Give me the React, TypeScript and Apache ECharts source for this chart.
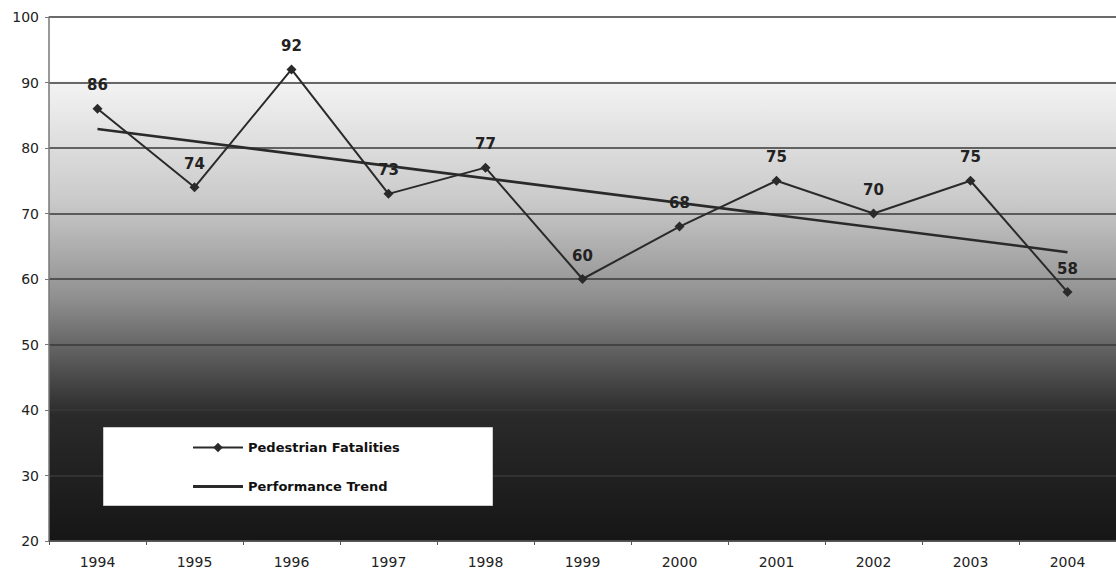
import React, { useEffect, useRef } from "react";
import * as echarts from "echarts";

const years = ["1994", "1995", "1996", "1997", "1998", "1999", "2000", "2001", "2002", "2003", "2004"];
const fatalities = [86, 74, 92, 73, 77, 60, 68, 75, 70, 75, 58];
const pointLabels = ["86", "74", "92", "73", "77", "60", "68", "75", "70", "75", "58"];
// trend line endpoints (1994 and 2004)
const trend = [82.9, null, null, null, null, null, null, null, null, null, 64.1];
const yTicks = { min: 20, max: 100, interval: 10 };

export default function App() {
  const ref = useRef<HTMLDivElement>(null);
  useEffect(() => {
    const chart = echarts.init(ref.current!, null, { renderer: "svg" });
    const font = "'DejaVu Sans', Arial, sans-serif";
    chart.setOption({
      animation: false,
      backgroundColor: "#ffffff",
      grid: {
        left: 49,
        top: 17,
        right: -9,
        bottom: 41,
        show: true,
        borderWidth: 0,
        backgroundColor: new echarts.graphic.LinearGradient(0, 0, 0, 1, [
          { offset: 0, color: "#ffffff" },
          { offset: 0.12, color: "#ffffff" },
          { offset: 0.125, color: "#f3f3f3" },
          { offset: 0.35, color: "#cacaca" },
          { offset: 0.54, color: "#8e8e8e" },
          { offset: 0.66, color: "#565656" },
          { offset: 0.76, color: "#2a2a2a" },
          { offset: 1, color: "#161616" },
        ]),
      },
      xAxis: {
        type: "category",
        data: years,
        boundaryGap: true,
        axisLine: { show: true, lineStyle: { color: "#555", width: 1.5 } },
        axisTick: { show: true, length: 4, lineStyle: { color: "#555" } },
        axisLabel: { fontSize: 14, color: "#222", margin: 14, fontFamily: font },
        splitLine: { show: false },
      },
      yAxis: {
        type: "value",
        min: yTicks.min,
        max: yTicks.max,
        interval: yTicks.interval,
        axisLine: { show: true, lineStyle: { color: "#777", width: 1.5 } },
        axisTick: { show: true, length: 4, lineStyle: { color: "#777" } },
        axisLabel: { fontSize: 14, color: "#222", margin: 10, fontFamily: font },
        splitLine: { show: true, lineStyle: { color: "#383838", width: 1.5 } },
      },
      legend: {
        orient: "vertical",
        left: 192,
        top: 441,
        z: 6,
        itemWidth: 50,
        itemHeight: 12,
        itemGap: 26,
        padding: 0,
        textStyle: { fontSize: 13, fontWeight: "bold", color: "#111", fontFamily: font },
        data: [
          { name: "Pedestrian Fatalities" },
          {
            name: "Performance Trend",
            icon: "path://M0,0 L50,0 L50,3 L0,3 Z",
            itemStyle: { color: "#2a2a2a" },
          },
        ],
      },
      graphic: [
        {
          type: "rect",
          left: 103,
          top: 427,
          z: 5,
          shape: { width: 389, height: 78 },
          style: { fill: "#ffffff", stroke: "#cccccc", lineWidth: 1 },
        },
      ],
      series: [
        {
          name: "Pedestrian Fatalities",
          type: "line",
          data: fatalities,
          symbol: "diamond",
          symbolSize: 10,
          itemStyle: { color: "#2a2a2a" },
          lineStyle: { color: "#2a2a2a", width: 2 },
          label: {
            show: true,
            position: "top",
            distance: 11,
            fontSize: 15,
            fontWeight: "bold",
            color: "#222",
            fontFamily: font,
            formatter: (p: any) => pointLabels[p.dataIndex],
          },
          z: 3,
        },
        {
          name: "Performance Trend",
          type: "line",
          data: trend,
          connectNulls: true,
          symbol: "none",
          itemStyle: { color: "#2a2a2a" },
          lineStyle: { color: "#2a2a2a", width: 2.5 },
          z: 2,
        },
      ],
    });
    return () => chart.dispose();
  }, []);
  return (
    <div
      ref={ref}
      style={{ position: "fixed", left: 0, top: 0, width: 1116, height: 582 }}
    />
  );
}
